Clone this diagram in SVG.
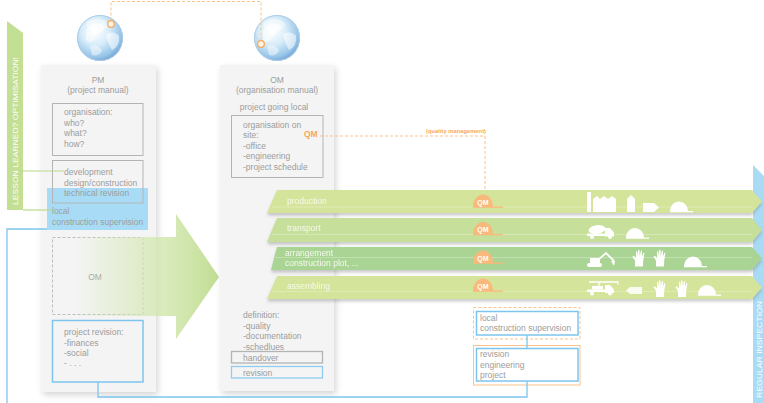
<svg xmlns="http://www.w3.org/2000/svg" xmlns:xlink="http://www.w3.org/1999/xlink" width="764" height="403" viewBox="0 0 764 403">
  <defs>
    <style>
      .t { font-family: "Liberation Sans", Arial, sans-serif; font-size: 8.5px; fill: #9c9c9c; }
      .tc { text-anchor: middle; }
      .band-t { font-family: "Liberation Sans", Arial, sans-serif; font-size: 8.5px; fill: #f6f9ec; }
      .box { fill: none; stroke: #b4b4b4; stroke-width: 1; }
      .bbox { fill: none; stroke: #7ec5ee; stroke-width: 1.5; }
      .panel { fill: #f4f4f4; }
      .wire { fill: none; stroke: #7ec5ee; stroke-width: 1.3; }
      .qmline { fill: none; stroke: #fbc38c; stroke-width: 1; stroke-dasharray: 3 2; }
      .qm { font-family: "Liberation Sans", Arial, sans-serif; font-weight: bold; fill: #f7a95c; }
      .qmw { font-family: "Liberation Sans", Arial, sans-serif; font-weight: bold; font-size: 7px; fill: #ffffff; text-anchor: middle; }
      .icon { fill: #ffffff; }
      .vert { font-family: "Liberation Sans", Arial, sans-serif; font-size: 8px; fill: #ffffff; }
      .hl { stroke: #ffffff; stroke-opacity: 0.35; stroke-width: 0.8; }
    </style>
    <filter id="panelShadow" x="-15%" y="-5%" width="135%" height="115%">
      <feDropShadow dx="2" dy="3" stdDeviation="3" flood-color="#000" flood-opacity="0.16"/>
    </filter>
    <filter id="bandShadow" x="-5%" y="-30%" width="110%" height="180%">
      <feDropShadow dx="0" dy="2.5" stdDeviation="1.6" flood-color="#6d6d6d" flood-opacity="0.35"/>
    </filter>
    <radialGradient id="globeFill" cx="40%" cy="35%" r="68%">
      <stop offset="0" stop-color="#ffffff"/>
      <stop offset="0.45" stop-color="#d7ecf9"/>
      <stop offset="0.85" stop-color="#94c3e8"/>
      <stop offset="1" stop-color="#6e9fcf"/>
    </radialGradient>
    <linearGradient id="arrowFill" gradientUnits="userSpaceOnUse" x1="75" y1="0" x2="219" y2="0">
      <stop offset="0" stop-color="#d2e7ae" stop-opacity="0"/>
      <stop offset="0.55" stop-color="#d2e7ae" stop-opacity="0.75"/>
      <stop offset="1" stop-color="#c1dd93" stop-opacity="1"/>
    </linearGradient>
    <!-- half-dome hard hat: dome 20 wide, 12 high, brim to the right -->
    <path id="qmHat" d="M0,0 A10,12 0 0 1 20,0 L30,0 L30,1.3 L0,1.3 Z"/>
    <path id="helmet" d="M0,0 A9,9.5 0 0 1 18,0 L23,0 L23,1.3 L0,1.3 Z"/>
    <path id="glove" d="M3,17 L3,11 L0.4,7.2 L1.8,6.2 L4,8.6 L4,2.2 Q4.6,1.2 5.3,2.2 L5.7,7 L6.1,0.8 Q6.8,-0.2 7.5,0.8 L7.8,7 L8.8,1.5 Q9.5,0.7 10.1,1.5 L9.8,7.6 L11.2,3.4 Q11.9,2.8 12.4,3.6 L11.2,11 L11,17 Z"/>
    <g id="globe">
      <circle r="23" fill="url(#globeFill)"/>
      <path d="M-14,-8 Q-8,-16 2,-14 Q6,-10 2,-6 Q-4,-4 -6,2 Q-10,6 -14,2 Z" fill="#ffffff" fill-opacity="0.55"/>
      <path d="M6,-4 Q14,-8 19,-2 Q20,8 12,12 Q8,6 6,-4 Z" fill="#ffffff" fill-opacity="0.55"/>
      <path d="M-10,8 Q-2,6 2,12 Q0,19 -8,17 Z" fill="#ffffff" fill-opacity="0.45"/>
      <ellipse cx="-3" cy="-13" rx="11" ry="6" fill="#ffffff" fill-opacity="0.45"/>
      <circle r="22.5" fill="none" stroke="#aecde8" stroke-width="1"/>
    </g>
  </defs>

  <rect width="764" height="403" fill="#ffffff"/>

  <!-- side banners -->
  <g id="lesson-banner">
    <polygon points="7,21 23,33 23,210 7,210" fill="#c3df93"/>
    <text class="vert" transform="translate(18,205) rotate(-90)" textLength="148" lengthAdjust="spacingAndGlyphs">LESSON LEARNED? OPTIMISATION!</text>
  </g>
  <g id="inspection-banner">
    <polygon points="753,165 764,176 764,403 753,403" fill="#a9dbf4"/>
    <text class="vert" transform="translate(762,398) rotate(-90)" textLength="97" lengthAdjust="spacingAndGlyphs">REGULAR INSPECTION</text>
  </g>

  <!-- PM panel -->
  <g id="pm">
    <rect class="panel" x="41" y="65" width="115" height="327" filter="url(#panelShadow)"/>
    <use href="#globe" x="100" y="38"/>
    <text class="t tc" x="98" y="83">PM</text>
    <text class="t tc" x="98" y="93">(project manual)</text>
    <rect class="box" x="52.5" y="103.5" width="90.5" height="52"/>
    <text class="t" x="64" y="115">organisation:</text>
    <text class="t" x="64" y="125.5">who?</text>
    <text class="t" x="64" y="136">what?</text>
    <text class="t" x="64" y="146.5">how?</text>
    <rect x="47" y="188" width="101" height="42" fill="#a8dcf6"/>
    <rect class="box" x="52.5" y="160.5" width="90.5" height="42.5"/>
    <text class="t" x="64" y="175">development</text>
    <text class="t" x="64" y="185.5">design/construction</text>
    <text class="t" x="64" y="195.5">technical revision</text>
    <text class="t" x="52" y="214">local</text>
    <text class="t" x="52" y="224.5">construction supervision</text>
    <rect x="52.5" y="237.5" width="90.5" height="77" fill="none" stroke="#bdbdbd" stroke-width="1" stroke-dasharray="3 2"/>
    <text class="t tc" x="95" y="280">OM</text>
    <rect class="bbox" x="52.5" y="320.5" width="90.5" height="61.5"/>
    <text class="t" x="64" y="335">project revision:</text>
    <text class="t" x="64" y="345.5">-finances</text>
    <text class="t" x="64" y="356">-social</text>
    <text class="t" x="64" y="366">- . . .</text>
  </g>

  <!-- transfer arrow from PM to OM -->
  <g id="transfer-arrow">
    <polygon points="75,237 176,237 176,214 219,277 176,339 176,316 75,316" fill="url(#arrowFill)"/>
  </g>

  <!-- OM panel -->
  <g id="om">
    <rect class="panel" x="220" y="65" width="114" height="326" filter="url(#panelShadow)"/>
    <use href="#globe" x="277" y="38"/>
    <text class="t tc" x="277" y="83">OM</text>
    <text class="t tc" x="277" y="93">(organisation manual)</text>
    <text class="t tc" x="274" y="110">project going local</text>
    <rect class="box" x="231.5" y="115.5" width="91.5" height="62"/>
    <text class="t" x="243" y="127.5">organisation on</text>
    <text class="t" x="243" y="138">site:</text>
    <text class="t" x="243" y="148.5">-office</text>
    <text class="t" x="243" y="159">-engineering</text>
    <text class="t" x="243" y="169.5">-project schedule</text>
    <text class="t" x="243" y="318">definition:</text>
    <text class="t" x="243" y="328.5">-quality</text>
    <text class="t" x="243" y="339">-documentation</text>
    <text class="t" x="243" y="349.5">-schedlues</text>
    <rect x="231.5" y="351.5" width="91" height="11.5" fill="none" stroke="#b4b4b4" stroke-width="1.3"/>
    <text class="t" x="243" y="360.5">handover</text>
    <rect x="231.5" y="366.5" width="91" height="11.5" fill="none" stroke="#8fcdf0" stroke-width="1.3"/>
    <text class="t" x="243" y="375.5">revision</text>
  </g>

  <!-- process bands -->
  <g id="band-production" filter="url(#bandShadow)">
    <polygon points="277,190 752,190 762,201.5 752,213 267,213" fill="#d5e49b"/>
    <line class="hl" x1="272" y1="207" x2="752" y2="207"/>
    <text class="band-t" x="287" y="204">production</text>
  </g>
  <g id="band-transport" filter="url(#bandShadow)">
    <polygon points="277,218 752,218 762,230 752,242 267,242" fill="#c6df9b"/>
    <line class="hl" x1="272" y1="234.5" x2="752" y2="234.5"/>
    <text class="band-t" x="287" y="231">transport</text>
  </g>
  <g id="band-arrangement" filter="url(#bandShadow)">
    <polygon points="277,247 752,247 762,258.5 752,270 271,270" fill="#a9d494"/>
    <line class="hl" x1="275" y1="257.5" x2="752" y2="257.5"/>
    <text class="band-t" x="285" y="256">arrangement</text>
    <text class="band-t" x="285" y="265.5">construction plot, ...</text>
  </g>
  <g id="band-assembling" filter="url(#bandShadow)">
    <polygon points="277,276 752,276 762,287.5 752,299 267,299" fill="#d5e49b"/>
    <line class="hl" x1="272" y1="291.5" x2="752" y2="291.5"/>
    <text class="band-t" x="287" y="289">assembling</text>
  </g>

  <!-- quality management hats -->
  <g id="qm-hats" fill="#f9b87c">
    <use href="#qmHat" x="473" y="206.5"/>
    <text class="qmw" x="483" y="204.5">QM</text>
    <use href="#qmHat" x="473" y="234"/>
    <text class="qmw" x="483" y="232">QM</text>
    <use href="#qmHat" x="473" y="262.5"/>
    <text class="qmw" x="483" y="260.5">QM</text>
    <use href="#qmHat" x="473" y="290.5"/>
    <text class="qmw" x="483" y="288.5">QM</text>
  </g>

  <!-- pictograms -->
  <g id="icons-production" class="icon">
    <rect x="587" y="192" width="4" height="20"/>
    <polygon points="593,212 593,199 597,196 600,199 604,196 608,199 612,196 616,199 616,212"/>
    <polygon points="627,212 627,199 631,195 635,199 635,212"/>
    <polygon points="643,203 654,203 659,207.5 654,212 643,212"/>
    <use href="#helmet" x="670" y="211"/>
  </g>
  <g id="icons-transport" class="icon">
    <ellipse cx="597" cy="229.5" rx="8.5" ry="4.3" transform="rotate(-8 597 229.5)"/>
    <rect x="587" y="233.5" width="22" height="2.5"/>
    <path d="M605,228 H610 L614,232.5 V236.5 H605 Z"/>
    <circle cx="592" cy="237" r="2"/>
    <circle cx="610" cy="237" r="2"/>
    <use href="#helmet" x="626" y="237.5"/>
  </g>
  <g id="icons-arrangement" class="icon">
    <rect x="587" y="263" width="15" height="4" rx="2"/>
    <rect x="590" y="258" width="10" height="5"/>
    <path d="M598,260 L606,253 L614,261" fill="none" stroke="#ffffff" stroke-width="1.8"/>
    <path d="M611,261 L615,261 L614,266 Z"/>
    <use href="#glove" x="632" y="249.5"/>
    <use href="#glove" x="653" y="249.5"/>
    <use href="#helmet" x="684" y="266"/>
  </g>
  <g id="icons-assembling" class="icon">
    <line x1="589" y1="282" x2="618" y2="282" stroke="#ffffff" stroke-width="1.5"/>
    <line x1="600" y1="282" x2="598" y2="287" stroke="#ffffff" stroke-width="1.3"/>
    <line x1="618" y1="281" x2="618" y2="285" stroke="#ffffff" stroke-width="1"/>
    <rect x="587" y="289.5" width="22" height="2.5"/>
    <rect x="592" y="286" width="11" height="3.5"/>
    <path d="M605,285 H610 L614,289.5 V293 H605 Z"/>
    <circle cx="592" cy="293.5" r="2"/>
    <circle cx="610" cy="293.5" r="2"/>
    <polygon points="626,290.5 630,287 642,287 642,294 630,294" fill-opacity="0.85"/>
    <use href="#glove" x="653" y="280"/>
    <use href="#glove" x="675" y="280"/>
    <use href="#helmet" x="698" y="294.5"/>
  </g>

  <!-- local supervision / revision boxes -->
  <g id="site-supervision">
    <rect x="473.5" y="307.5" width="106.5" height="31.5" fill="none" stroke="#fbc38c" stroke-width="1" stroke-dasharray="3 2"/>
    <rect class="bbox" x="476.5" y="311.5" width="101.5" height="23.5" fill="#ffffff"/>
    <text class="t" x="480" y="320.5">local</text>
    <text class="t" x="480" y="331">construction supervision</text>
  </g>
  <g id="site-revision">
    <rect x="473.5" y="345.5" width="106.5" height="39.5" fill="none" stroke="#fbc38c" stroke-width="1"/>
    <rect class="bbox" x="476.5" y="348.5" width="101.5" height="32.5" fill="#ffffff"/>
    <text class="t" x="480" y="357">revision</text>
    <text class="t" x="480" y="367.5">engineering</text>
    <text class="t" x="480" y="378">project</text>
  </g>

  <!-- connectors -->
  <g id="connectors">
    <polyline class="qmline" points="111,20.5 111,1.5 261,1.5 261,40"/>
    <circle cx="111" cy="24" r="3.3" fill="#fff3e6" stroke="#f7a95a" stroke-width="1.3"/>
    <circle cx="261" cy="44" r="3.3" fill="#fff3e6" stroke="#f7a95a" stroke-width="1.3"/>
    <text class="qm" x="304" y="137" font-size="8.5">QM</text>
    <polyline class="qmline" points="320,136 485,136 485,190"/>
    <text class="qm" x="486" y="133" font-size="5.8" text-anchor="end">(quality management)</text>
    <polyline points="20,171 64,171" fill="none" stroke="#b8d98c" stroke-width="1.2"/>
    <polyline points="23,210 52,210" fill="none" stroke="#b8d98c" stroke-width="1.2"/>
    <polyline class="wire" points="47,229 7,229 7,403"/>
    <polyline class="wire" points="98,382 98,397 527,397 527,381"/>
    <line class="wire" x1="527" y1="335" x2="527" y2="348.5"/>
  </g>
</svg>
